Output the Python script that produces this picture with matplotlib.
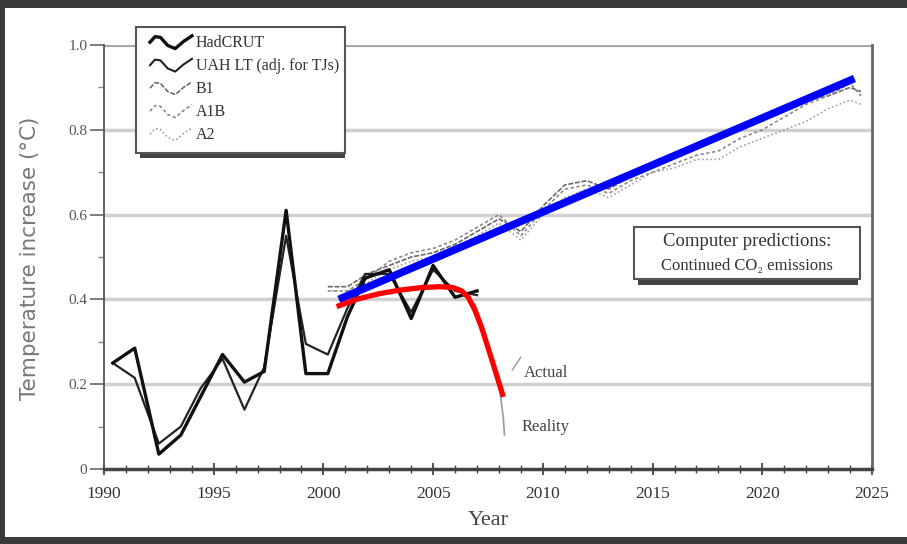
import matplotlib
matplotlib.use('Agg')
import matplotlib.pyplot as plt
from matplotlib.patches import Rectangle
from matplotlib.lines import Line2D

W, H = 907, 544

# observed series (year, temperature increase)
obs_years = [1990.4, 1991.4, 1992.5, 1993.5, 1994.4, 1995.4, 1996.4, 1997.3, 1998.3,
             1999.2, 2000.2, 2001.1, 2001.9, 2003.0, 2004.0, 2005.0, 2006.0, 2007.0]
hadcrut = [0.25, 0.285, 0.035, 0.08, 0.17, 0.27, 0.205, 0.23, 0.61,
           0.225, 0.225, 0.36, 0.45, 0.47, 0.355, 0.48, 0.405, 0.42]
uah = [0.25, 0.215, 0.06, 0.10, 0.19, 0.26, 0.14, 0.24, 0.55,
       0.295, 0.27, 0.38, 0.46, 0.46, 0.37, 0.47, 0.42, 0.41]

# model projections
mod_years = [2000.2, 2001.1, 2002.0, 2003.0, 2004.0, 2005.0, 2006.0, 2007.0, 2008.0,
             2009.0, 2010.0, 2011.0, 2012.0, 2013.0, 2014.0, 2015.0, 2016.0, 2017.0,
             2018.0, 2019.0, 2020.0, 2021.0, 2022.0, 2023.0, 2024.0, 2024.5]
b1 = [0.43, 0.43, 0.46, 0.48, 0.50, 0.51, 0.53, 0.56, 0.59, 0.56, 0.62, 0.67, 0.68,
      0.66, 0.69, 0.72, 0.74, 0.76, 0.78, 0.80, 0.83, 0.85, 0.87, 0.88, 0.90, 0.89]
a1b = [0.42, 0.42, 0.45, 0.49, 0.51, 0.52, 0.54, 0.57, 0.60, 0.55, 0.61, 0.66, 0.67,
       0.65, 0.68, 0.70, 0.72, 0.74, 0.75, 0.78, 0.80, 0.83, 0.86, 0.88, 0.91, 0.88]
a2 = [0.42, 0.42, 0.44, 0.47, 0.49, 0.50, 0.52, 0.55, 0.58, 0.54, 0.60, 0.64, 0.66,
      0.64, 0.67, 0.70, 0.71, 0.73, 0.73, 0.76, 0.78, 0.80, 0.82, 0.85, 0.87, 0.86]

# overlay annotations
blue_years = [2000.7, 2024.2]
blue_vals = [0.40, 0.921]
red_years = [2000.6, 2001.5, 2002.5, 2003.5, 2004.5, 2005.3, 2005.9, 2006.3, 2006.6,
             2006.9, 2007.2, 2007.6, 2007.9, 2008.2]
red_vals = [0.383, 0.400, 0.413, 0.422, 0.428, 0.430, 0.428, 0.420, 0.405,
            0.375, 0.335, 0.27, 0.22, 0.17]
reality_years = [2006.9, 2007.3, 2007.7, 2008.05, 2008.2, 2008.25]
reality_vals = [0.39, 0.33, 0.25, 0.18, 0.12, 0.08]

legend_labels = ['HadCRUT', 'UAH LT (adj. for TJs)', 'B1', 'A1B', 'A2']

SERIF = ['Liberation Serif', 'DejaVu Serif']


def fx(px):
    return px / W


def fy(py):
    return 1 - py / H


fig = plt.figure(figsize=(W / 100, H / 100), dpi=100)
fig.patch.set_facecolor('white')
ax = fig.add_axes([fx(104), fy(469), (872 - 104) / W, (469 - 45) / H])
ax.set_xlim(1990, 2025)
ax.set_ylim(0, 1.0)

# grid
for g in [0.2, 0.4, 0.6, 0.8]:
    ax.axhline(g, color='#d0d0d0', lw=2.5, zorder=0)
ax.axhline(1.0, color='#a8a8a8', lw=3, zorder=0)

# model lines
ax.plot(mod_years, b1, color='#6a6a6a', lw=1.2, ls=(0, (3, 1)), zorder=2)
ax.plot(mod_years, a1b, color='#8a8a8a', lw=1.2, ls=(0, (2, 1.5)), zorder=2)
ax.plot(mod_years, a2, color='#a0a0a0', lw=1.2, ls=(0, (1, 1.5)), zorder=2)

# observed
ax.plot(obs_years, uah, color='#222222', lw=1.6, zorder=3)
ax.plot(obs_years, hadcrut, color='#111111', lw=2.4, zorder=3)

# reality / actual lines
ax.plot(reality_years, reality_vals, color='#9a9a9a', lw=1.2, zorder=3)
ax.plot([2008.6, 2009.0], [0.233, 0.264], color='#9a9a9a', lw=1.0, zorder=3)

ax.plot(blue_years, blue_vals, color='#0000ff', lw=5.5, solid_capstyle='butt', zorder=5)
ax.plot(red_years, red_vals, color='#ff0000', lw=3.8, solid_capstyle='butt', zorder=5)

ax.text(2009.15, 0.226, 'Actual', fontsize=12, family=SERIF, color='#444444', va='center')
ax.text(2009.05, 0.100, 'Reality', fontsize=12, family=SERIF, color='#444444', va='center')

# spines and ticks
ax.spines['top'].set_visible(False)
ax.spines['left'].set_color('#555555')
ax.spines['left'].set_linewidth(1.3)
ax.spines['right'].set_color('#666666')
ax.spines['right'].set_linewidth(2.0)
ax.spines['bottom'].set_color('#444444')
ax.spines['bottom'].set_linewidth(2.5)

ax.set_xticks(range(1990, 2026, 5))
ax.set_xticks(range(1990, 2026), minor=True)
ax.set_yticks([0, 0.2, 0.4, 0.6, 0.8, 1.0])
ax.set_yticklabels(['0', '0.2', '0.4', '0.6', '0.8', '1.0'])
ax.set_yticks([0.1, 0.3, 0.5, 0.7, 0.9], minor=True)
ax.tick_params(axis='x', which='major', direction='inout', length=9, width=1.3,
               color='#444444', labelsize=12.5, labelcolor='#333333', pad=8)
ax.tick_params(axis='x', which='minor', direction='inout', length=6, width=1.0,
               color='#444444')
ax.tick_params(axis='y', which='major', direction='out', length=10, width=1.2,
               color='#666666', labelsize=11, labelcolor='#555555', pad=2)
ax.tick_params(axis='y', which='minor', direction='out', length=4, width=1.0,
               color='#888888')
for lab in ax.get_xticklabels() + ax.get_yticklabels():
    lab.set_family(SERIF)

ax.set_xlabel('Year', fontsize=16, family=SERIF, color='#444444', labelpad=6)
fig.text(fx(30), fy(258), 'Temperature increase (\u00b0C)', rotation=90, fontsize=15.5,
         color='#777777', ha='center', va='center')

# legend box drawn by hand
fig.add_artist(Rectangle((fx(140), fy(158)), fx(345) - fx(140), fy(152) - fy(158),
                         transform=fig.transFigure, facecolor='#444444', edgecolor='none',
                         zorder=6))
fig.add_artist(Rectangle((fx(136), fy(153)), fx(345) - fx(136), fy(27) - fy(153),
                         transform=fig.transFigure, facecolor='white', edgecolor='#555555',
                         lw=1.5, zorder=7))
styles = [('#111111', 2.4, '-'), ('#222222', 1.5, '-'), ('#6a6a6a', 1.2, (0, (3, 1))),
          ('#8a8a8a', 1.2, (0, (2, 1.5))), ('#a0a0a0', 1.2, (0, (1, 1.5)))]
wave_x = [0, 0.12, 0.25, 0.42, 0.6, 0.8, 1.0]
wave_y = [0.1, 0.8, 0.7, -0.3, -0.7, 0.2, 0.9]
for i, (lab, (c, lw, ls)) in enumerate(zip(legend_labels, styles)):
    ry = 43 + i * 23
    xs = [fx(150 + 42 * t) for t in wave_x]
    ys = [fy(ry - 8 * v) for v in wave_y]
    fig.add_artist(Line2D(xs, ys, transform=fig.transFigure, color=c, lw=lw, ls=ls, zorder=8))
    fig.text(fx(196), fy(ry), lab, fontsize=11.5, family=SERIF, color='#333333',
             va='center', ha='left', zorder=8)

# prediction box
fig.add_artist(Rectangle((fx(638), fy(285)), fx(858) - fx(638), fy(278) - fy(285),
                         transform=fig.transFigure, facecolor='#444444', edgecolor='none',
                         zorder=6))
fig.add_artist(Rectangle((fx(634), fy(279)), fx(860) - fx(634), fy(227) - fy(279),
                         transform=fig.transFigure, facecolor='white', edgecolor='#555555',
                         lw=1.5, zorder=7))
fig.text(fx(747), fy(242), 'Computer predictions:', fontsize=13.5, family=SERIF,
         color='#333333', ha='center', va='center', zorder=8)
fig.text(fx(747), fy(266), 'Continued CO\u2082 emissions', fontsize=12, family=SERIF,
         color='#333333', ha='center', va='center', zorder=8)

# outer frame
frame = '#3a3a3a'
fig.add_artist(Rectangle((0, fy(8)), 1, fy(0) - fy(8), transform=fig.transFigure,
                         facecolor=frame, edgecolor='none'))
fig.add_artist(Rectangle((0, 0), fx(5), 1, transform=fig.transFigure,
                         facecolor=frame, edgecolor='none'))
fig.add_artist(Rectangle((0, 0), 1, fy(537), transform=fig.transFigure,
                         facecolor=frame, edgecolor='none'))

fig.savefig('out.png', dpi=100, facecolor='white')
